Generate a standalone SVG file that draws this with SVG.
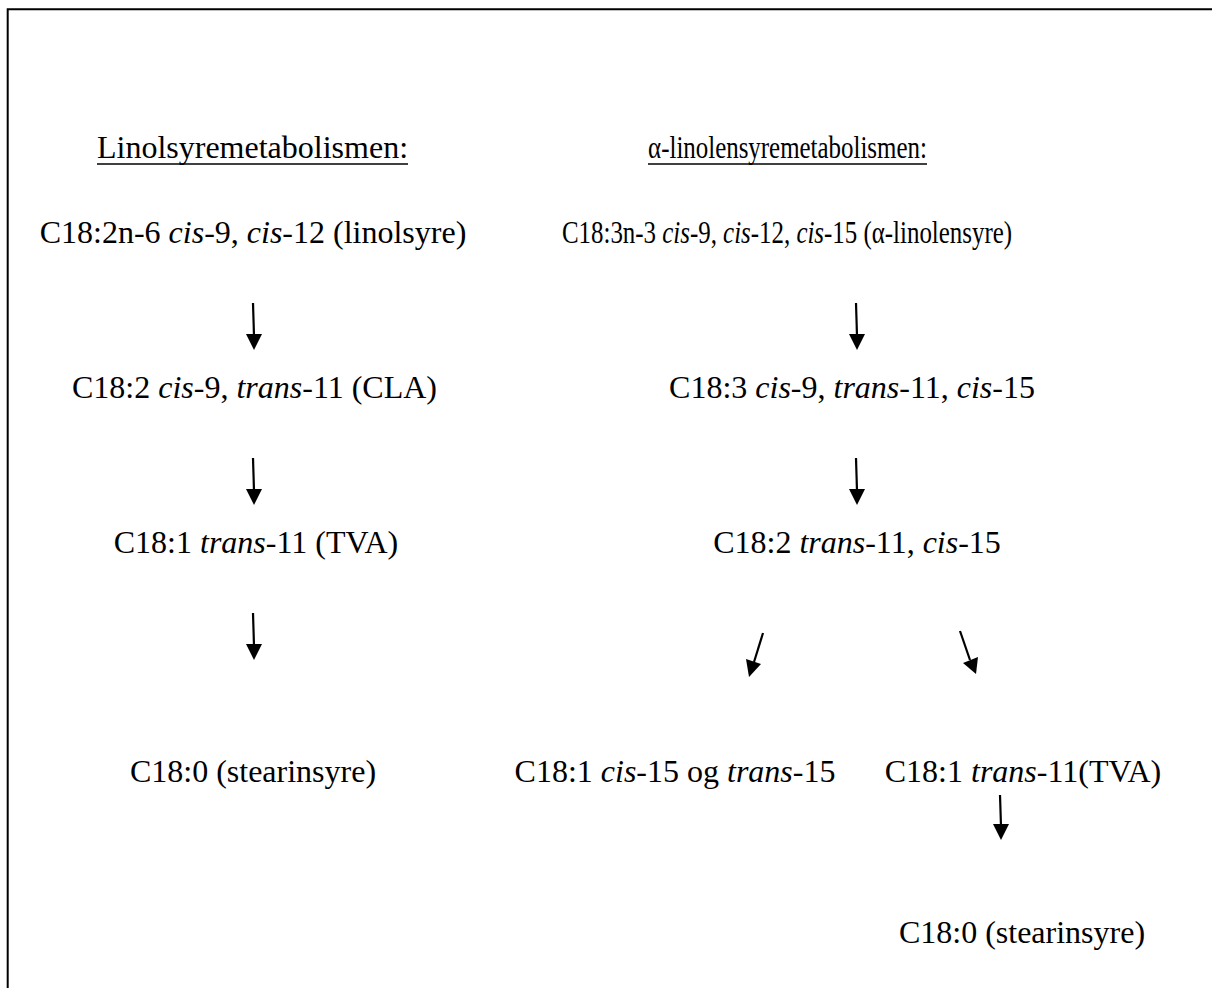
<svg xmlns="http://www.w3.org/2000/svg" width="1212" height="988" viewBox="0 0 1212 988">
<defs>
<style>
text{font-family:"Liberation Serif","Times New Roman",serif;font-size:32px;fill:#000;text-anchor:middle}
.i{font-style:italic}
.c{stroke:#000;stroke-width:2.2;fill:none}
.u{stroke:#000;stroke-width:1.6}
</style>
</defs>
<rect width="1212" height="988" fill="#fff"/>
<path d="M7.7,988 V9.3 H1212" fill="none" stroke="#000" stroke-width="2"/>
<g id="connectors">
<path class="c" d="M253,303 L254,336"/><path d="M246,334 L262,334 L254,350 Z"/>
<path class="c" d="M253,458 L254,491"/><path d="M246,489 L262,489 L254,505 Z"/>
<path class="c" d="M253,613 L254,646"/><path d="M246,644 L262,644 L254,660 Z"/>
<path class="c" d="M856,303 L857,336"/><path d="M849,334 L865,334 L857,350 Z"/>
<path class="c" d="M856,458 L857,491"/><path d="M849,489 L865,489 L857,505 Z"/>
<path class="c" d="M763,633 L754,662"/><path d="M746,659 L761,664 L749,677 Z"/>
<path class="c" d="M960,631 L970,660"/><path d="M963,663 L978,657 L976,674 Z"/>
<path class="c" d="M1000,795 L1001,826"/><path d="M993,824 L1009,824 L1001,840 Z"/>
</g>
<g id="h1"><text x="252.5" y="158">Linolsyremetabolismen:</text><line class="u" x1="97" y1="164" x2="408" y2="164"/></g>
<g id="h2"><text transform="translate(787.5,158) scale(0.779,1)">α-linolensyremetabolismen:</text><line class="u" x1="648" y1="164" x2="927" y2="164"/></g>
<g id="l1"><text x="253" y="243">C18:2n-6 <tspan class="i">cis</tspan>-9, <tspan class="i">cis</tspan>-12 (linolsyre)</text></g>
<g id="l2"><text x="254.5" y="398">C18:2 <tspan class="i">cis</tspan>-9, <tspan class="i">trans</tspan>-11 (CLA)</text></g>
<g id="l3"><text x="256" y="553">C18:1 <tspan class="i">trans</tspan>-11 (TVA)</text></g>
<g id="l4"><text x="253" y="782">C18:0 (stearinsyre)</text></g>
<g id="r1"><text transform="translate(787,243) scale(0.7785,1)">C18:3n-3 <tspan class="i">cis</tspan>-9, <tspan class="i">cis</tspan>-12, <tspan class="i">cis</tspan>-15 (α-linolensyre)</text></g>
<g id="r2"><text x="852" y="398">C18:3 <tspan class="i">cis</tspan>-9, <tspan class="i">trans</tspan>-11, <tspan class="i">cis</tspan>-15</text></g>
<g id="r3"><text x="857" y="553">C18:2 <tspan class="i">trans</tspan>-11, <tspan class="i">cis</tspan>-15</text></g>
<g id="r4a"><text x="675" y="782">C18:1 <tspan class="i">cis</tspan>-15 og <tspan class="i">trans</tspan>-15</text></g>
<g id="r4b"><text x="1023" y="782">C18:1 <tspan class="i">trans</tspan>-11(TVA)</text></g>
<g id="r5"><text x="1022" y="943">C18:0 (stearinsyre)</text></g>
</svg>
